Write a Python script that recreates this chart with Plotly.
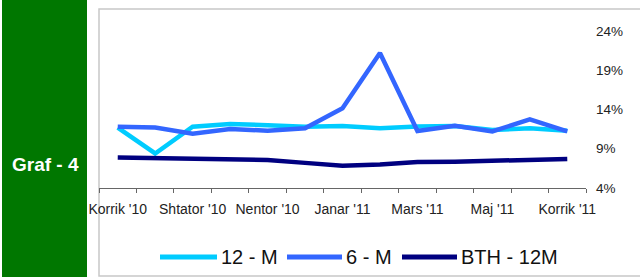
import plotly.graph_objects as go

categories = ["Korrik '10", "Gusht '10", "Shtator '10", "Tetor '10", "Nentor '10",
              "Dhjetor '10", "Janar '11", "Shkurt '11", "Mars '11", "Prill '11",
              "Maj '11", "Qershor '11", "Korrik '11"]
tick_labels = ["Korrik '10", "", "Shtator '10", "", "Nentor '10", "", "Janar '11", "",
               "Mars '11", "", "Maj '11", "", "Korrik '11"]
m12 = [11.7, 8.4, 11.8, 12.15, 12.0, 11.8, 11.9, 11.6, 11.85, 11.9, 11.4, 11.6, 11.3]
m6 = [11.8, 11.7, 10.9, 11.5, 11.3, 11.6, 14.15, 21.2, 11.25, 11.94, 11.2, 12.75, 11.2]
bth12 = [7.9, 7.85, 7.8, 7.7, 7.57, 7.2, 6.85, 7.0, 7.3, 7.35, 7.45, 7.57, 7.7]
y_ticks = [4, 9, 14, 19, 24]

series_names = ["12 - M", "6 - M", "BTH - 12M"]
series_colors = ["#00CCFF", "#3366FF", "#000080"]
series_values = [m12, m6, bth12]

FONT = "Liberation Sans, Arial, sans-serif"

W, H = 640, 277
L, R, T, B = 99, 54, 31, 89
pw, ph = W - L - R, H - T - B


def px_x(x):
    return (x - L) / pw


def px_y(y):
    return (H - B - y) / ph


fig = go.Figure()
for name, color, vals in zip(series_names, series_colors, series_values):
    fig.add_trace(go.Scatter(x=categories, y=vals, name=name, mode="lines",
                             line=dict(color=color, width=4.5)))

# legend drawn as sample lines + text below the chart
legend_samples = [(160, 217), (287, 342), (402, 457)]
shapes = [
    dict(type="rect", xref="paper", yref="paper",
         x0=px_x(2), x1=px_x(87), y0=px_y(H + 5), y1=px_y(-5),
         fillcolor="#007700", line=dict(width=0), layer="below"),
    dict(type="rect", xref="paper", yref="paper",
         x0=px_x(99), x1=px_x(W + 5), y0=px_y(276), y1=px_y(9),
         fillcolor="rgba(0,0,0,0)", line=dict(color="#C8C8C8", width=1.5),
         layer="below"),
]
annotations = [
    dict(text="<b>Graf - 4</b>", xref="paper", yref="paper", x=px_x(45), y=px_y(164),
         xanchor="center", yanchor="middle", showarrow=False,
         font=dict(size=19, color="white", family=FONT)),
]
for (a, b), name, color in zip(legend_samples, series_names, series_colors):
    shapes.append(dict(type="line", xref="paper", yref="paper",
                       x0=px_x(a), x1=px_x(b), y0=px_y(257), y1=px_y(257),
                       line=dict(color=color, width=5)))
    annotations.append(dict(text=name, xref="paper", yref="paper",
                            x=px_x(b + 2), y=px_y(257), xanchor="left",
                            yanchor="middle", showarrow=False,
                            font=dict(size=20, color="#111111", family=FONT)))

fig.update_layout(
    width=W, height=H,
    margin=dict(l=L, r=R, t=T, b=B, autoexpand=False),
    paper_bgcolor="white", plot_bgcolor="white",
    font=dict(family=FONT, color="#222222"),
    showlegend=False,
    xaxis=dict(type="category", tickson="boundaries", tickvals=categories,
               ticktext=tick_labels, ticks="outside", ticklen=4,
               tickcolor="#666666", showline=True, linecolor="#666666",
               linewidth=1, showgrid=False, zeroline=False, automargin=False,
               tickfont=dict(size=14, color="#222222"), tickangle=0,
               ticklabelstandoff=8, range=[-0.5, 12.5]),
    yaxis=dict(side="right", range=[4, 24], tickvals=y_ticks,
               ticktext=[f"{v}%" for v in y_ticks], showgrid=False,
               zeroline=False, showline=False, ticks="", automargin=False,
               ticklabelstandoff=9,
               tickfont=dict(size=13.5, color="#222222")),
    shapes=shapes,
    annotations=annotations,
)

fig.write_html("out.html", config={"displayModeBar": False},
               post_script="document.body.style.margin='0px';"
                           "document.body.style.overflow='hidden';")
